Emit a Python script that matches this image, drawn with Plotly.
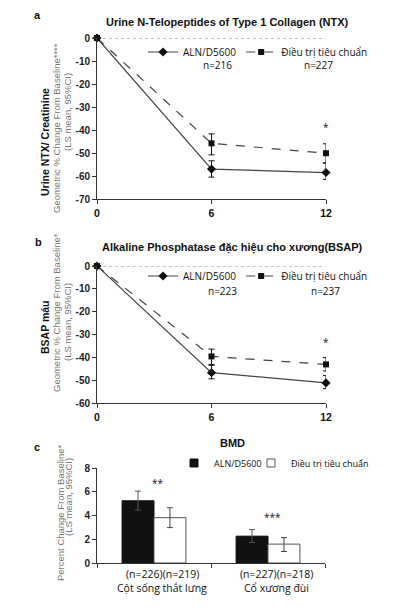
import plotly.graph_objects as go

# ---------------- data ----------------
months = [0, 6, 12]

ntx_aln = [0, -57.0, -58.5]
ntx_aln_hi = [0, -53.4, -54.4]
ntx_aln_lo = [0, -60.5, -61.5]
ntx_std = [0, -45.8, -50.1]
ntx_std_hi = [0, -41.7, -46.0]
ntx_std_lo = [0, -50.8, -54.3]
ntx_n = ["n=216", "n=227"]
ntx_star_y = -38.5

bsap_aln = [0, -46.7, -51.2]
bsap_aln_hi = [0, -43.5, -48.0]
bsap_aln_lo = [0, -49.4, -53.7]
bsap_std = [0, -39.6, -43.1]
bsap_std_hi = [0, -36.4, -40.1]
bsap_std_lo = [0, -43.1, -46.0]
bsap_n = ["n=223", "n=237"]
bsap_star_y = -33.3

bmd_sites = ["Cột sống thắt lưng", "Cổ xương đùi"]
bmd_n = ["(n=226)(n=219)", "(n=227)(n=218)"]
bmd_aln = [5.24, 2.26]
bmd_aln_hi = [6.05, 2.81]
bmd_aln_lo = [4.46, 1.73]
bmd_std = [3.82, 1.59]
bmd_std_hi = [4.65, 2.14]
bmd_std_lo = [2.98, 0.97]
bmd_stars = ["**", "***"]
bmd_star_y = [6.7, 3.9]

ntx_yticks = [0, -10, -20, -30, -40, -50, -60, -70]
bsap_yticks = [0, -10, -20, -30, -40, -50, -60]
bmd_yticks = [0, 2, 4, 6, 8]

names = ["ALN/D5600", "Điều trị tiêu chuẩn"]

W, H = 398, 616


def X(px):
    return px / W


def Y(py):
    return 1 - py / H


def err(m, hi, lo, color="#111"):
    return dict(type="data", symmetric=False,
                array=[h - v for h, v in zip(hi, m)],
                arrayminus=[v - l for v, l in zip(m, lo)],
                color=color, thickness=1, width=3)


fig = go.Figure()

for (vals, hi, lo, nm, dash, sym, yax, xax, leg) in [
    (ntx_aln, ntx_aln_hi, ntx_aln_lo, names[0], "solid", "diamond", "y", "x", "legend"),
    (ntx_std, ntx_std_hi, ntx_std_lo, names[1], "dash", "square", "y", "x", "legend"),
    (bsap_aln, bsap_aln_hi, bsap_aln_lo, names[0], "solid", "diamond", "y2", "x2", "legend2"),
    (bsap_std, bsap_std_hi, bsap_std_lo, names[1], "dash", "square", "y2", "x2", "legend2"),
]:
    fig.add_trace(go.Scatter(
        x=months, y=vals, name=nm, mode="lines+markers",
        line=dict(color="#444", width=1.2, dash=dash),
        marker=dict(symbol=sym, size=7 if sym == "diamond" else 6, color="#111"),
        error_y=err(vals, hi, lo), xaxis=xax, yaxis=yax, legend=leg,
        cliponaxis=False))

fig.add_trace(go.Bar(
    x=bmd_sites, y=bmd_aln, name=names[0], showlegend=False,
    marker=dict(color="#111", line=dict(color="#111", width=1)),
    error_y=err(bmd_aln, bmd_aln_hi, bmd_aln_lo, "#555"),
    xaxis="x3", yaxis="y3"))
fig.add_trace(go.Bar(
    x=bmd_sites, y=bmd_std, name=names[1], showlegend=False,
    marker=dict(color="#fff", line=dict(color="#555", width=1)),
    error_y=err(bmd_std, bmd_std_hi, bmd_std_lo, "#444"),
    xaxis="x3", yaxis="y3"))
# legend entries for the bar panel (small square swatches), one legend each
for nm, fc, lc, lg in [(names[0], "#111", "#111", "legend3"),
                       (names[1], "#fff", "#555", "legend4")]:
    fig.add_trace(go.Scatter(
        x=[None], y=[None], name=nm, mode="markers",
        marker=dict(symbol="square", size=8, color=fc, line=dict(color=lc, width=1)),
        xaxis="x3", yaxis="y3", legend=lg))

tickfont = dict(family="Liberation Sans", size=10, color="#222", weight="bold")
xtickfont = dict(family="Liberation Sans", size=10.5, color="#111", weight="bold")
ax_common = dict(showline=True, linecolor="#333", linewidth=1, ticks="outside",
                 ticklen=4, tickcolor="#333", showgrid=False, zeroline=False)
leg_c = dict(orientation="h", xanchor="left", yanchor="middle", y=Y(463),
             bgcolor="rgba(0,0,0,0)", itemwidth=30,
             font=dict(family="Open Sans", size=9, color="#111"))

fig.update_layout(
    width=W, height=H, margin=dict(l=0, r=0, t=0, b=0, autoexpand=False),
    paper_bgcolor="white", plot_bgcolor="white",
    font=dict(family="Open Sans", size=10, color="#111"),
    barmode="group", bargap=0.44, bargroupgap=0,
    xaxis=dict(domain=[X(97), X(326)], range=[0, 12], tickvals=months,
               anchor="y", tickfont=xtickfont, **ax_common),
    yaxis=dict(domain=[Y(199), Y(38)], range=[-70, 0], tickvals=ntx_yticks,
               ticktext=[str(v) for v in ntx_yticks], anchor="x", tickfont=tickfont, **ax_common),
    xaxis2=dict(domain=[X(97), X(326)], range=[0, 12], tickvals=months,
                anchor="y2", tickfont=xtickfont, **ax_common),
    yaxis2=dict(domain=[Y(403), Y(266)], range=[-60, 0], tickvals=bsap_yticks,
                ticktext=[str(v) for v in bsap_yticks], anchor="x2", tickfont=tickfont, **ax_common),
    xaxis3=dict(domain=[X(97), X(325)], range=[-0.5, 1.5], anchor="y3",
                tickson="boundaries", showticklabels=False, **ax_common),
    yaxis3=dict(domain=[Y(563), Y(468)], range=[0, 8], tickvals=bmd_yticks,
                anchor="x3", tickfont=tickfont, **ax_common),
    legend=dict(orientation="h", x=X(143), y=Y(52), xanchor="left", yanchor="middle",
                bgcolor="rgba(0,0,0,0)", itemwidth=30,
                font=dict(family="Open Sans", size=10, color="#111")),
    legend2=dict(orientation="h", x=X(143), y=Y(276), xanchor="left", yanchor="middle",
                 bgcolor="rgba(0,0,0,0)", itemwidth=30,
                 font=dict(family="Open Sans", size=10, color="#111")),
    legend3=dict(x=X(174), **leg_c),
    legend4=dict(x=X(251), **leg_c),
)

for xr, yr in [("x", "y"), ("x2", "y2")]:
    fig.add_shape(type="line", xref=xr, yref=yr, x0=min(months), x1=max(months),
                  y0=0, y1=0, line=dict(color="#888", width=1, dash="dot"), layer="below")

ann = []


def txt(text, px, py, size=10, family="Open Sans", color="#111", bold=False,
        angle=0, xanchor="center"):
    if bold:
        text = "<b>" + text + "</b>"
    ann.append(dict(text=text, x=X(px), y=Y(py), xref="paper", yref="paper",
                    showarrow=False, textangle=angle, xanchor=xanchor, yanchor="middle",
                    font=dict(size=size, family=family, color=color)))


txt("a", 37, 15, 11, "Liberation Sans", bold=True)
txt("b", 38, 242, 11, "Liberation Sans", bold=True)
txt("c", 37, 447, 11, "Liberation Sans", bold=True)
txt("Urine N-Telopeptides of Type 1 Collagen (NTX)", 227, 22, 11, "Liberation Sans", bold=True)
txt("Alkaline Phosphatase đặc hiệu cho xương(BSAP)", 232, 247, 11, "Liberation Sans", bold=True)
txt("BMD", 232, 443, 11, "Liberation Sans", bold=True)

txt("Urine NTX/ Creatinine", 45, 142, 10.5, "Liberation Sans", bold=True, angle=-90)
txt("Geometric % Change From Baseline****", 56, 128, 9.5, "Liberation Sans", color="#777", angle=-90)
txt("(LS mean, 95%CI)", 67, 112, 9.5, "Liberation Sans", color="#777", angle=-90)
txt("BSAP máu", 45, 327, 10.5, "Liberation Sans", bold=True, angle=-90)
txt("Geometric % Change From Baseline*", 56, 313, 9.5, "Liberation Sans", color="#777", angle=-90)
txt("(LS mean, 95%CI)", 67, 322, 9.5, "Liberation Sans", color="#777", angle=-90)
txt("Percent Change From Baseline*", 60, 512, 9.5, "Liberation Sans", color="#777", angle=-90)
txt("(LS mean, 95%CI)", 69, 497, 9.5, "Liberation Sans", color="#777", angle=-90)

txt(ntx_n[0], 217, 65)
txt(ntx_n[1], 318, 65)
txt(bsap_n[0], 222, 291)
txt(bsap_n[1], 325, 291)

fig.update_layout(annotations=ann)

fig.add_annotation(x=months[-1], y=ntx_star_y, xref="x", yref="y", text="*",
                   showarrow=False, font=dict(size=10, color="#111"))
fig.add_annotation(x=months[-1], y=bsap_star_y, xref="x2", yref="y2", text="*",
                   showarrow=False, font=dict(size=10, color="#111"))
for site, s, yv in zip(bmd_sites, bmd_stars, bmd_star_y):
    fig.add_annotation(x=site, y=yv, xref="x3", yref="y3", text=s, xshift=4,
                       showarrow=False, font=dict(size=10, color="#111"))

for site, n in zip(bmd_sites, bmd_n):
    fig.add_annotation(x=site, y=0, xref="x3", yref="y3", text=n, xshift=8, yshift=-11,
                       showarrow=False, font=dict(size=10.5, family="Open Sans", color="#111"))
    fig.add_annotation(x=site, y=0, xref="x3", yref="y3", text=site, xshift=8, yshift=-25,
                       showarrow=False, font=dict(size=10.5, family="Open Sans", color="#111"))

fig.write_html("out.html", config={"displayModeBar": False},
               post_script="document.body.style.margin='0';")
